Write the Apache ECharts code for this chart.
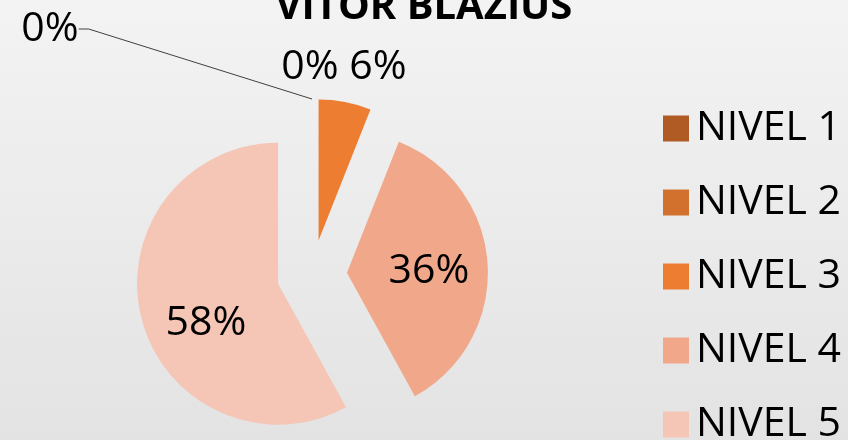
<!DOCTYPE html>
<html>
<head>
<meta charset="utf-8">
<script src="https://cdn.jsdelivr.net/npm/echarts@6/dist/echarts.min.js"></script>
<style>
html,body{margin:0;padding:0;}
#chart{width:848px;height:440px;}
</style>
</head>
<body>
<div id="chart"></div>
<script>
var titleText = 'VITOR BLAZIUS';
var categories = ['NIVEL 1', 'NIVEL 2', 'NIVEL 3', 'NIVEL 4', 'NIVEL 5'];
var values = [0, 0, 6, 36, 58];
var colors = ['#B05A24', '#D2702D', '#ED7D31', '#F1A88A', '#F5C6B6'];

// label placement (style only)
var labelPos = [[50, 29], [310, 67], [378, 67], [429, 271], [206, 323]];

var FONT = '"Open Sans", "Noto Sans", sans-serif';

var chart = echarts.init(document.getElementById('chart'));

var sliceData = categories.map(function (c, i) {
  return { name: c, value: values[i], selected: true, itemStyle: { color: colors[i] } };
});
var labelData = categories.map(function (c, i) {
  return {
    name: c,
    value: values[i],
    labelLine: { show: i === 0, lineStyle: { color: '#404040', width: 1 } }
  };
});

chart.setOption({
  backgroundColor: {
    type: 'linear', x: 0, y: 0, x2: 0, y2: 1,
    colorStops: [{ offset: 0, color: '#F3F3F3' }, { offset: 1, color: '#E3E3E3' }]
  },
  title: {
    text: titleText,
    left: 'center',
    top: -17,
    textStyle: { fontFamily: FONT, fontWeight: 'bold', fontSize: 40, color: '#000' }
  },
  legend: {
    orient: 'vertical',
    left: 658,
    top: 103,
    height: 420,
    itemWidth: 26,
    itemHeight: 26,
    itemGap: 33,
    icon: 'rect',
    data: categories,
    textStyle: { fontFamily: FONT, fontSize: 41, color: '#000', lineHeight: 40, padding: [0, 0, 0, 2] }
  },
  series: [{
    type: 'pie',
    center: [312, 275],
    radius: 141,
    startAngle: 90,
    selectedMode: 'multiple',
    selectedOffset: 35,
    animation: false,
    emphasis: { disabled: true },
    select: { itemStyle: { borderWidth: 0 } },
    label: { show: false },
    labelLine: { show: false },
    data: sliceData
  }, {
    type: 'pie',
    center: [312, 275],
    radius: 176,
    startAngle: 90,
    silent: true,
    animation: false,
    avoidLabelOverlap: false,
    itemStyle: { color: 'rgba(0,0,0,0)' },
    emphasis: { disabled: true },
    label: {
      formatter: '{d}%',
      fontFamily: FONT,
      fontSize: 41,
      color: '#000'
    },
    labelLine: { length: 10, length2: 10 },
    labelLayout: function (p) {
      var pos = labelPos[p.dataIndex];
      return { x: pos[0], y: pos[1], align: 'center', verticalAlign: 'middle' };
    },
    data: labelData
  }]
});
</script>
</body>
</html>
